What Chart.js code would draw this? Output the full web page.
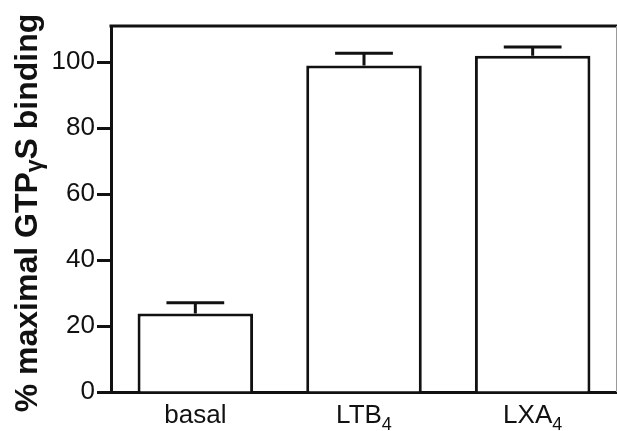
<!DOCTYPE html>
<html>
<head>
<meta charset="utf-8">
<script src="https://cdn.jsdelivr.net/npm/chart.js@4"></script>
<style>
  html, body { margin: 0; padding: 0; background: #fff; }
  #wrap { width: 617px; height: 431px; position: relative; }
</style>
</head>
<body>
<div id="wrap"><canvas id="bar-chart"></canvas></div>
<script>
// values
var categories = ["basal", "LTB4", "LXA4"];
var bindingValues = [23.8, 99.0, 102.0];
var bindingErrors = [3.3, 3.7, 2.6];
var yTickValues = [0, 20, 40, 60, 80, 100];

var fontFamily = "'Liberation Sans', Arial, Helvetica, sans-serif";
var ink = "#111";

// draws "LTB4" as LTB with a subscript 4
function drawSubLabel(ctx, text, cx, baseline, size, subSize, subDrop) {
    var m = text.match(/^(.*?)(\d+)$/);
    var main = m ? m[1] : text;
    var sub = m ? m[2] : "";
    ctx.font = size + "px " + fontFamily;
    var w1 = ctx.measureText(main).width;
    ctx.font = subSize + "px " + fontFamily;
    var w2 = sub ? ctx.measureText(sub).width : 0;
    var x0 = cx - (w1 + w2) / 2;
    ctx.textAlign = "left";
    ctx.textBaseline = "alphabetic";
    ctx.font = size + "px " + fontFamily;
    ctx.fillText(main, x0, baseline);
    if (sub) {
        ctx.font = subSize + "px " + fontFamily;
        ctx.fillText(sub, x0 + w1, baseline + subDrop);
    }
}

var figurePlugin = {
    id: "figure",
    afterDatasetsDraw: function (chart) {
        var ctx = chart.ctx;
        var area = chart.chartArea;
        var yScale = chart.scales.y;
        var meta = chart.getDatasetMeta(0);

        ctx.save();
        ctx.strokeStyle = ink;
        ctx.lineWidth = 3;
        ctx.lineCap = "butt";

        // error bars (upper only)
        meta.data.forEach(function (bar, i) {
            var yTop = yScale.getPixelForValue(bindingValues[i] + bindingErrors[i]);
            var half = bar.width * 0.25;
            ctx.beginPath();
            ctx.moveTo(bar.x, bar.y);
            ctx.lineTo(bar.x, yTop);
            ctx.moveTo(bar.x - half, yTop);
            ctx.lineTo(bar.x + half, yTop);
            ctx.stroke();
        });

        // frame: thick top line, thin right edge
        ctx.beginPath();
        ctx.moveTo(area.left - 1.5, area.top);
        ctx.lineTo(area.right, area.top);
        ctx.stroke();
        ctx.strokeStyle = "#9a9a9a";
        ctx.lineWidth = 1;
        ctx.beginPath();
        ctx.moveTo(area.right - 0.5, area.top);
        ctx.lineTo(area.right - 0.5, area.bottom);
        ctx.stroke();

        // category labels
        ctx.fillStyle = ink;
        meta.data.forEach(function (bar, i) {
            drawSubLabel(ctx, categories[i], bar.x, 423, 26, 18, 7);
        });

        // y axis title with subscript gamma
        ctx.translate(37, 213);
        ctx.rotate(-Math.PI / 2);
        var parts = [["% maximal GTP", 32, 0], ["\u03b3", 23, 5], ["S binding", 32, 0]];
        var total = 0;
        parts.forEach(function (p) {
            ctx.font = "bold " + p[1] + "px " + fontFamily;
            p.push(ctx.measureText(p[0]).width);
            total += p[3];
        });
        var x = -total / 2;
        ctx.textAlign = "left";
        ctx.textBaseline = "alphabetic";
        parts.forEach(function (p) {
            ctx.font = "bold " + p[1] + "px " + fontFamily;
            ctx.fillText(p[0], x, p[2]);
            x += p[3];
        });
        ctx.restore();
    },
};

var config = {
    type: "bar",
    data: {
        labels: categories,
        datasets: [
            {
                label: "% maximal GTPγS binding",
                data: bindingValues,
                backgroundColor: "#ffffff",
                borderColor: ink,
                borderWidth: 3,
                categoryPercentage: 1,
                barPercentage: 0.685,
            },
        ],
    },
    options: {
        responsive: true,
        maintainAspectRatio: false,
        animation: false,
        layout: { padding: { top: 26, right: 0, left: 0, bottom: 0 } },
        plugins: {
            legend: { display: false },
            tooltip: { enabled: false },
        },
        scales: {
            y: {
                min: 0,
                max: 111,
                afterBuildTicks: function (scale) {
                    scale.ticks = yTickValues.map(function (v) { return { value: v }; });
                },
                afterFit: function (scale) { scale.width = 111; },
                border: { display: true, color: ink, width: 3 },
                grid: {
                    drawOnChartArea: false,
                    drawTicks: true,
                    tickLength: 14,
                    tickWidth: 3,
                    tickColor: ink,
                },
                ticks: {
                    padding: 2,
                    color: ink,
                    font: { family: fontFamily, size: 26 },
                },
            },
            x: {
                afterFit: function (scale) { scale.height = 39; },
                border: { display: true, color: ink, width: 3 },
                grid: { display: false },
                ticks: { display: false },
            },
        },
    },
    plugins: [figurePlugin],
};

var barChart = new Chart(document.getElementById("bar-chart").getContext("2d"), config);
</script>
</body>
</html>
